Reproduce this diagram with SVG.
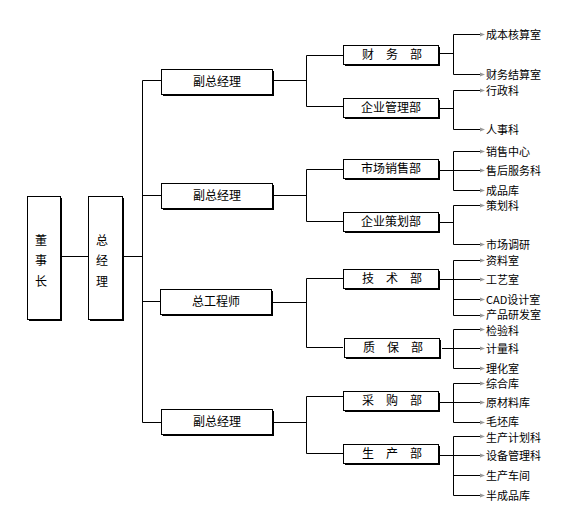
<svg xmlns="http://www.w3.org/2000/svg" width="587" height="530" viewBox="0 0 587 530">
<defs>
<style>
text{font-family:"Noto Sans CJK SC","Liberation Sans",sans-serif;font-size:12px;fill:#000}
#leaves text{font-size:11px}
.c{text-anchor:middle}
.box{fill:#fff;stroke:#000;stroke-width:1}
.sh{fill:#000}
.ln{fill:none;stroke:#000;stroke-width:1}
</style>
<marker id="ar" markerUnits="userSpaceOnUse" markerWidth="6" markerHeight="6" refX="0" refY="2.5" orient="auto">
<path d="M0,0.5 L5,2.5 L0,4.5 z" fill="#999"/>
</marker>
</defs>
<rect width="587" height="530" fill="#fff"/>
<g id="connectors" class="ln">
<path d="M60,256.5H88M122,256.5H142.5M142.5,80.5V422.5M142.5,80.5H161M142.5,195.5H161M142.5,301.5H161M142.5,422.5H161"/>
<path d="M273,80.5H306.5M306.5,55.5V106.5M306.5,55.5H343M306.5,106.5H343"/>
<path d="M273,195.5H306.5M306.5,169.5V221.5M306.5,169.5H343M306.5,221.5H343"/>
<path d="M273,302.5H306.5M306.5,278.5V347.5M306.5,278.5H343M306.5,347.5H343"/>
<path d="M273,422.5H306.5M306.5,396.5V453.5M306.5,396.5H343M306.5,453.5H343"/>
<path d="M440,53.5H453.5M453.5,34.5V74.5M440,108.5H453.5M453.5,90.5V129.5M440,170.5H453.5M453.5,151.5V190.5M440,222.5H453.5M453.5,205.5V244.5M440,279.5H453.5M453.5,260.5V315.5M442,348.5H453.5M453.5,329.5V368.5M440,402.5H453.5M453.5,383.5V422.5M440,455.5H453.5M453.5,436.5V495.5"/>
<g marker-end="url(#ar)">
<path d="M453.5,34.5H480"/><path d="M453.5,74.5H480"/><path d="M453.5,90.5H480"/><path d="M453.5,129.5H480"/>
<path d="M453.5,151.5H480"/><path d="M453.5,170.5H480"/><path d="M453.5,190.5H480"/><path d="M453.5,205.5H480"/><path d="M453.5,244.5H480"/>
<path d="M453.5,260.5H480"/><path d="M453.5,279.5H480"/><path d="M453.5,299.5H480"/><path d="M453.5,315.5H480"/>
<path d="M453.5,329.5H480"/><path d="M453.5,348.5H480"/><path d="M453.5,368.5H480"/>
<path d="M453.5,383.5H480"/><path d="M453.5,402.5H480"/><path d="M453.5,422.5H480"/>
<path d="M453.5,436.5H480"/><path d="M453.5,455.5H480"/><path d="M453.5,475.5H480"/><path d="M453.5,495.5H480"/>
</g>
</g>
<g id="n-dongshizhang"><rect class="sh" x="29" y="198" width="33" height="123"/><rect class="box" x="27.5" y="196.5" width="33" height="123"/><text class="c" x="41" y="244.5">董</text><text class="c" x="41" y="265">事</text><text class="c" x="41" y="285.5">长</text></g>
<g id="n-zongjingli"><rect class="sh" x="90" y="198" width="34" height="123"/><rect class="box" x="88.5" y="196.5" width="34" height="123"/><text class="c" x="102" y="244.5">总</text><text class="c" x="102" y="265">经</text><text class="c" x="102" y="285.5">理</text></g>
<g id="n-fz1"><rect class="sh" x="163" y="71" width="111" height="25"/><rect class="box" x="161.5" y="69.5" width="111" height="25"/><text class="c" x="217" y="86">副总经理</text></g>
<g id="n-fz2"><rect class="sh" x="163" y="185" width="111" height="25"/><rect class="box" x="161.5" y="183.5" width="111" height="25"/><text class="c" x="217" y="200">副总经理</text></g>
<g id="n-zgcs"><rect class="sh" x="162" y="291" width="111" height="25"/><rect class="box" x="160.5" y="289.5" width="111" height="25"/><text class="c" x="216" y="306">总工程师</text></g>
<g id="n-fz3"><rect class="sh" x="163" y="411" width="111" height="25"/><rect class="box" x="161.5" y="409.5" width="111" height="25"/><text class="c" x="217" y="426">副总经理</text></g>
<g id="n-cwb"><rect class="sh" x="345" y="47" width="95" height="19"/><rect class="box" x="343.5" y="45.5" width="95" height="19"/><text class="c" x="392" y="59" xml:space="preserve">财　务　部</text></g>
<g id="n-qyglb"><rect class="sh" x="345" y="100" width="95" height="19"/><rect class="box" x="343.5" y="98.5" width="95" height="19"/><text class="c" x="391" y="112">企业管理部</text></g>
<g id="n-scxsb"><rect class="sh" x="345" y="161" width="95" height="19"/><rect class="box" x="343.5" y="159.5" width="95" height="19"/><text class="c" x="391" y="173">市场销售部</text></g>
<g id="n-qychb"><rect class="sh" x="345" y="214" width="95" height="19"/><rect class="box" x="343.5" y="212.5" width="95" height="19"/><text class="c" x="391" y="226">企业策划部</text></g>
<g id="n-jsb"><rect class="sh" x="345" y="271" width="95" height="19"/><rect class="box" x="343.5" y="269.5" width="95" height="19"/><text class="c" x="392" y="283" xml:space="preserve">技　术　部</text></g>
<g id="n-zbb"><rect class="sh" x="346" y="340" width="95" height="19"/><rect class="box" x="344.5" y="338.5" width="95" height="19"/><text class="c" x="393" y="352" xml:space="preserve">质　保　部</text></g>
<g id="n-cgb"><rect class="sh" x="345" y="393" width="95" height="19"/><rect class="box" x="343.5" y="391.5" width="95" height="19"/><text class="c" x="392" y="405" xml:space="preserve">采　购　部</text></g>
<g id="n-scb"><rect class="sh" x="345" y="446" width="95" height="19"/><rect class="box" x="343.5" y="444.5" width="95" height="19"/><text class="c" x="392" y="458" xml:space="preserve">生　产　部</text></g>
<g id="leaves">
<text x="486" y="38.5">成本核算室</text><text x="486" y="78.5">财务结算室</text><text x="486" y="94.5">行政科</text><text x="486" y="133.5">人事科</text>
<text x="486" y="155.5">销售中心</text><text x="486" y="174.5">售后服务科</text><text x="486" y="194.5">成品库</text><text x="486" y="209.5">策划科</text><text x="486" y="248.5">市场调研</text>
<text x="486" y="264.5">资料室</text><text x="486" y="283.5">工艺室</text><text x="486" y="303.5">CAD设计室</text><text x="486" y="318.5">产品研发室</text>
<text x="486" y="334.5">检验科</text><text x="486" y="352.5">计量科</text><text x="486" y="372.5">理化室</text>
<text x="486" y="387.5">综合库</text><text x="486" y="406.5">原材料库</text><text x="486" y="425.5">毛坯库</text>
<text x="486" y="441.5">生产计划科</text><text x="486" y="459.5">设备管理科</text><text x="486" y="479.5">生产车间</text><text x="486" y="499.5">半成品库</text>
</g>
</svg>
